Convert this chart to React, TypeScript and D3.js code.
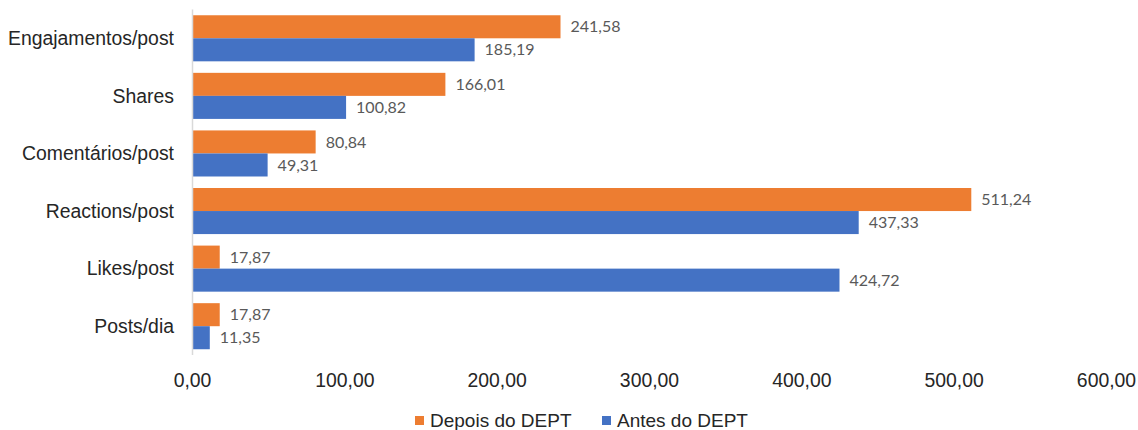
import React from "react";
import * as d3 from "d3";

const categories = ["Engajamentos/post", "Shares", "Comentários/post", "Reactions/post", "Likes/post", "Posts/dia"];
const depoisValues = [241.58, 166.01, 80.84, 511.24, 17.87, 17.87];
const antesValues = [185.19, 100.82, 49.31, 437.33, 424.72, 11.35];
const seriesNames = ["Depois do DEPT", "Antes do DEPT"];
const seriesColors = ["#ED7D31", "#4472C4"];
const xTicks = [0, 100, 200, 300, 400, 500, 600];

const W = 1138;
const H = 430;
const fmt = (v: number) => v.toFixed(2).replace(".", ",");

export default function App() {
  const x = d3.scaleLinear().domain([0, 600]).range([192.5, 1106.5]);
  const y = d3.scaleBand().domain(categories).range([9.5, 355]).paddingInner(0.2).paddingOuter(0.1);
  const sub = d3.scaleBand().domain(seriesNames).range([0, y.bandwidth()]);
  const series = [depoisValues, antesValues];
  const catFont = "'Liberation Sans', Arial, sans-serif";
  const lblFont = "Lato, 'Open Sans', sans-serif";

  return (
    <svg width={W} height={H} style={{ position: "absolute", left: 0, top: 0, background: "#fff" }}>
      {categories.map((c, i) => (
        <g key={c}>
          {series.map((vals, s) => {
            const y0 = (y(c) as number) + (sub(seriesNames[s]) as number);
            const h = sub.bandwidth();
            return (
              <g key={s}>
                <rect x={x(0)} y={y0} width={x(vals[i]) - x(0)} height={h} fill={seriesColors[s]} />
                <text x={x(vals[i]) + 10} y={y0 + h / 2} dy="0.35em" fontFamily={lblFont} fontSize={16} fill="#595959">
                  {fmt(vals[i])}
                </text>
              </g>
            );
          })}
          <text x={174} y={(y(c) as number) + y.bandwidth() / 2} dy="0.35em" textAnchor="end" fontFamily={catFont} fontSize={19.4} fill="#262626">
            {c}
          </text>
        </g>
      ))}
      <line x1={x(0)} x2={x(0)} y1={9.5} y2={355} stroke="#D9D9D9" strokeWidth={1.5} />
      {xTicks.map((t) => (
        <text key={t} x={x(t)} y={387} textAnchor="middle" fontFamily={catFont} fontSize={19.4} fill="#262626">
          {fmt(t)}
        </text>
      ))}
      {seriesNames.map((n, s) => {
        const lx = s === 0 ? 415 : 602;
        return (
          <g key={n}>
            <rect x={lx} y={416} width={9} height={9} fill={seriesColors[s]} />
            <text x={lx + 15} y={427} fontFamily={catFont} fontSize={19} fill="#262626">
              {n}
            </text>
          </g>
        );
      })}
    </svg>
  );
}
